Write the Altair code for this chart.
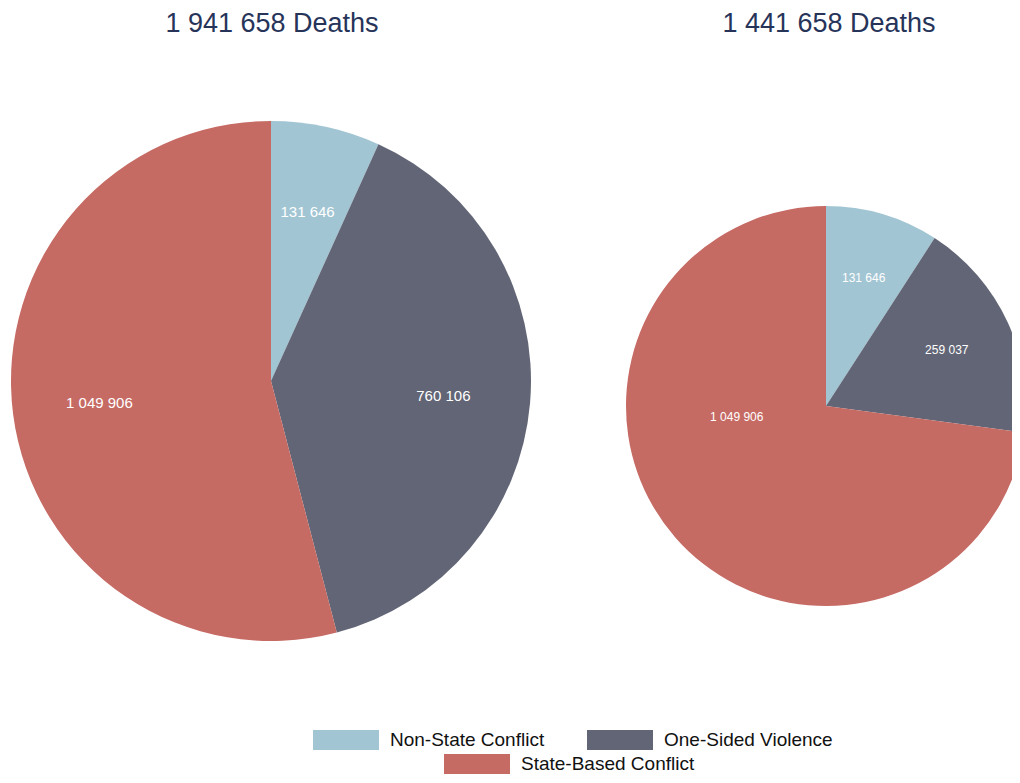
import altair as alt
import pandas as pd

categories = ["Non-State Conflict", "One-Sided Violence", "State-Based Conflict"]
colors = ["#a2c5d3", "#626575", "#c66a64"]
left_values = [131646, 760106, 1049906]
right_values = [131646, 259037, 1049906]
titles = ["1 941 658 Deaths", "1 441 658 Deaths"]
pies = ["left", "right"]


def fmt(v):
    return f"{v:,}".replace(",", " ")


rows = []
for pie, vals in zip(pies, (left_values, right_values)):
    for i, (c, v) in enumerate(zip(categories, vals)):
        rows.append({"pie": pie, "category": c, "value": v, "label": fmt(v), "order": i})
df = pd.DataFrame(rows)
title_df = pd.DataFrame({"pie": pies, "title": titles})

FONT = "Liberation Sans"
RECT = "M-3.3,-1L3.3,-1L3.3,1L-3.3,1Z"

legend_common = dict(
    title=None,
    orient="none",
    direction="horizontal",
    symbolType=RECT,
    symbolSize=400,
    symbolStrokeWidth=0,
    symbolOpacity=1,
    labelFontSize=19,
    labelFont=FONT,
    labelColor="#111111",
    labelOffset=34,
    labelLimit=400,
    columnPadding=42,
)

# the same category -> colour mapping, listed in two orders so that the two
# legend rows (left pie colours / right pie fills) stay separate
color_left = alt.Color(
    "category:N",
    scale=alt.Scale(domain=categories, range=colors),
    legend=alt.Legend(values=categories[:2], legendX=328, legendY=722, **legend_common),
)
fill_right = alt.Fill(
    "category:N",
    scale=alt.Scale(domain=categories[::-1], range=colors[::-1]),
    legend=alt.Legend(values=categories[2:], legendX=459, legendY=746, **legend_common),
)

base = alt.Chart(df)


def pie_layers(pie, cx, cy, r, label_r, fs, colour_enc, skip=None):
    d = base.transform_filter(alt.datum.pie == pie)
    enc = dict(
        theta=alt.Theta("value:Q", stack=True),
        order=alt.Order("order:Q"),
        x=alt.value(cx),
        y=alt.value(cy),
    )
    if isinstance(colour_enc, alt.Fill):
        enc["fill"] = colour_enc
    else:
        enc["color"] = colour_enc
    arc = d.mark_arc(radius=r, stroke=None).encode(**enc)
    expr = "datum.label" if skip is None else f"datum.category == '{skip}' ? '' : datum.label"
    txt = (
        d.transform_calculate(txt=expr)
        .mark_text(radius=label_r, fontSize=fs, color="white", font=FONT)
        .encode(
            theta=alt.Theta("value:Q", stack=True),
            detail="category:N",
            order=alt.Order("order:Q"),
            text="txt:N",
            x=alt.value(cx),
            y=alt.value(cy),
        )
    )
    return [arc, txt]


def odd_label(src_pie, cat, cx, cy, label_r, fs):
    # label placed on the angle of the matching slice of the other pie (as in the source)
    return (
        base.transform_filter(alt.datum.pie == src_pie)
        .transform_calculate(txt=f"datum.category == '{cat}' ? datum.label : ''")
        .mark_text(radius=label_r, fontSize=fs, color="white", font=FONT)
        .encode(
            theta=alt.Theta("value:Q", stack=True),
            detail="category:N",
            order=alt.Order("order:Q"),
            text="txt:N",
            x=alt.value(cx),
            y=alt.value(cy),
        )
    )


def title_layer(pie, cx):
    return (
        alt.Chart(title_df)
        .transform_filter(alt.datum.pie == pie)
        .mark_text(fontSize=27, font=FONT, color="#27345a", baseline="alphabetic", align="center")
        .encode(text="title:N", x=alt.value(cx), y=alt.value(24))
    )


layers = (
    pie_layers("left", 263, 373, 260, 173, 15, color_left)
    + pie_layers("right", 818, 398, 200, 133, 12, fill_right, skip="State-Based Conflict")
    + [odd_label("left", "State-Based Conflict", 818, 398, 90, 12)]
    + [title_layer("left", 264), title_layer("right", 821)]
)

chart = (
    alt.layer(*layers)
    .resolve_scale(theta="independent")
    .properties(width=1004, height=767, padding=0, autosize=alt.AutoSizeParams(type="none"))
    .configure_view(stroke=None)
)

chart.save("out.html", embed_options={"renderer": "svg", "actions": False})
